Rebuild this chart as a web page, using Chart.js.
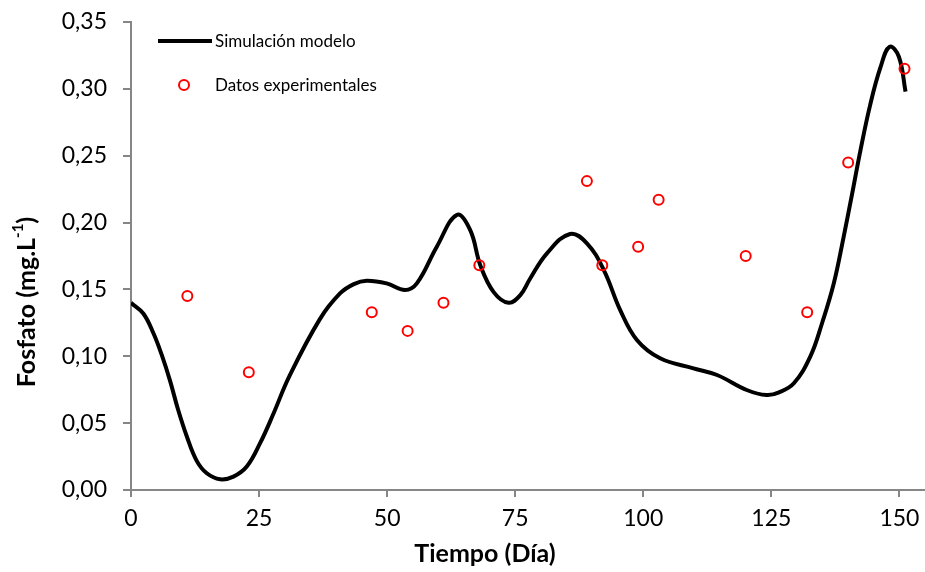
<!DOCTYPE html>
<html>
<head>
<meta charset="utf-8">
<script src="https://cdn.jsdelivr.net/npm/chart.js@4/dist/chart.umd.min.js"></script>
<style>
  html, body { margin: 0; padding: 0; background: #fff; }
  #wrap { width: 925px; height: 572px; }
</style>
</head>
<body>
<div id="wrap"><canvas id="c" width="925" height="572"></canvas></div>
<script>
// Simulated phosphate curve (day, mg/L)
const simDays = [0, 2.4, 4.4, 6.0, 7.6, 9.2, 10.9, 12.8, 14.8, 17.4, 20, 22.6, 25.2, 27.8, 30.9, 36.9, 40.8,
  43.5, 46, 49.9, 53.5, 55.8, 59.7, 63.6, 66.2, 68.2, 70.8, 73.7, 76, 77.9, 81.2, 85.7, 89, 92.3, 95.5, 98.8,
  103.3, 109.8, 114.4, 120.2, 124.1, 126.5, 129.4, 132.6, 134.9, 137.2, 139.1, 140.8, 142.4, 144.3, 146.3,
  148.1, 149.9, 151.2];
const simValues = [0.140, 0.132, 0.117, 0.101, 0.082, 0.060, 0.040, 0.022, 0.0125, 0.008, 0.010, 0.0175, 0.035,
  0.057, 0.085, 0.128, 0.147, 0.154, 0.1565, 0.1545, 0.1496, 0.1545, 0.182, 0.2057, 0.1945, 0.168, 0.148,
  0.140, 0.1458, 0.158, 0.177, 0.1915, 0.1845, 0.1645, 0.1346, 0.112, 0.0985, 0.091, 0.086, 0.0748, 0.071,
  0.073, 0.0798, 0.0997, 0.1247, 0.1546, 0.189, 0.222, 0.254, 0.288, 0.316, 0.3315, 0.324, 0.298];

// Measured phosphate samples
const expDays = [11, 23, 47, 54, 61, 68, 89, 92, 99, 103, 120, 132, 140, 151];
const expValues = [0.145, 0.088, 0.133, 0.119, 0.140, 0.168, 0.231, 0.168, 0.182, 0.217, 0.175, 0.133, 0.245, 0.315];

const xTicks = [0, 25, 50, 75, 100, 125, 150];
const yTicks = [0, 0.05, 0.10, 0.15, 0.20, 0.25, 0.30, 0.35];

const seriesNames = ['Simulación modelo', 'Datos experimentales'];
const xTitle = 'Tiempo (Día)';
const yTitle = 'Fosfato (mg.L';
const yTitleSup = '-1';
const yTitleEnd = ')';

const FONT = 'Lato, "Open Sans", sans-serif';
const AXIS = '#868686';

const toPts = (xs, ys) => xs.map((x, i) => ({ x: x, y: ys[i] }));

// Legend inside the plot plus both axis titles
const decorations = {
  id: 'decorations',
  afterDraw(chart) {
    const ctx = chart.ctx;
    const ds = chart.data.datasets;
    ctx.save();
    // legend: line sample
    ctx.strokeStyle = ds[0].borderColor;
    ctx.lineWidth = ds[0].borderWidth;
    ctx.beginPath();
    ctx.moveTo(158, 41);
    ctx.lineTo(212, 41);
    ctx.stroke();
    // legend: marker sample
    ctx.strokeStyle = ds[1].pointBorderColor;
    ctx.lineWidth = ds[1].pointBorderWidth;
    ctx.beginPath();
    ctx.arc(184, 85, ds[1].pointRadius, 0, Math.PI * 2);
    ctx.stroke();
    ctx.fillStyle = '#000';
    ctx.font = '17px ' + FONT;
    ctx.textBaseline = 'middle';
    ctx.textAlign = 'left';
    ctx.fillText(ds[0].label, 215, 42);
    ctx.fillText(ds[1].label, 215, 86);

    // x-axis title
    ctx.font = 'bold 25px ' + FONT;
    ctx.textAlign = 'center';
    ctx.fillText(xTitle, 485, 554);

    // y-axis title with superscript
    ctx.translate(27, 302);
    ctx.rotate(-Math.PI / 2);
    const mainFont = 'bold 25px ' + FONT;
    const supFont = 'bold 15px ' + FONT;
    ctx.font = mainFont;
    const w1 = ctx.measureText(yTitle).width;
    const w3 = ctx.measureText(yTitleEnd).width;
    ctx.font = supFont;
    const w2 = ctx.measureText(yTitleSup).width;
    let x = -(w1 + w2 + w3) / 2;
    ctx.textAlign = 'left';
    ctx.font = mainFont;
    ctx.fillText(yTitle, x, 0);
    x += w1;
    ctx.font = supFont;
    ctx.fillText(yTitleSup, x, -9);
    x += w2;
    ctx.font = mainFont;
    ctx.fillText(yTitleEnd, x, 0);
    ctx.restore();
  }
};

new Chart(document.getElementById('c'), {
  type: 'scatter',
  data: {
    datasets: [
      {
        label: seriesNames[0],
        data: toPts(simDays, simValues),
        showLine: true,
        borderColor: '#000',
        borderWidth: 4,
        pointRadius: 0,
        pointHoverRadius: 0,
        tension: 0.4,
        order: 2
      },
      {
        label: seriesNames[1],
        data: toPts(expDays, expValues),
        showLine: false,
        pointStyle: 'circle',
        pointRadius: 5,
        pointBorderWidth: 2,
        pointBorderColor: '#ff0000',
        pointBackgroundColor: 'rgba(0,0,0,0)',
        borderColor: '#ff0000',
        backgroundColor: 'rgba(0,0,0,0)',
        order: 1
      }
    ]
  },
  options: {
    responsive: false,
    animation: false,
    layout: { autoPadding: false, padding: { top: 22, right: 0, left: 0, bottom: 0 } },
    plugins: {
      legend: { display: false },
      tooltip: { enabled: false }
    },
    scales: {
      x: {
        type: 'linear',
        min: 0,
        max: 155,
        afterFit: s => { s.height = 82; s.paddingLeft = 0; s.paddingRight = 0; },
        afterBuildTicks: s => { s.ticks = xTicks.map(v => ({ value: v })); },
        ticks: {
          includeBounds: false,
          color: '#000',
          font: { family: FONT, size: 23 },
          padding: 8,
          maxRotation: 0,
          callback: v => String(v)
        },
        grid: { drawOnChartArea: false, drawTicks: true, tickLength: 7, color: AXIS, lineWidth: 2 },
        border: { color: AXIS, width: 2 }
      },
      y: {
        type: 'linear',
        min: 0,
        max: 0.35,
        afterFit: s => { s.width = 131; s.paddingTop = 0; s.paddingBottom = 0; },
        afterBuildTicks: s => { s.ticks = yTicks.map(v => ({ value: v })); },
        ticks: {
          color: '#000',
          font: { family: FONT, size: 23 },
          padding: 16,
          callback: v => Number(v).toFixed(2).replace('.', ',')
        },
        grid: { drawOnChartArea: false, drawTicks: true, tickLength: 8, color: AXIS, lineWidth: 2 },
        border: { color: AXIS, width: 2 }
      }
    }
  },
  plugins: [decorations]
});
</script>
</body>
</html>
